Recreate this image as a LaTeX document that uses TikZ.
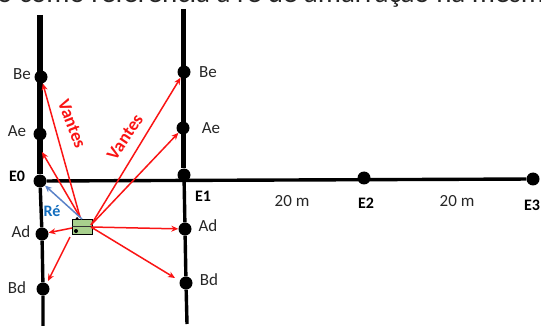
\documentclass[tikz,border=0pt]{standalone}
\usepackage{fontspec}
\setmainfont{Carlito}
\usetikzlibrary{arrows.meta,positioning}
\definecolor{surveyred}{RGB}{250,20,20}
\definecolor{surveyblue}{RGB}{90,130,200}
\definecolor{surveylabel}{RGB}{20,110,190}
\definecolor{surveygreen}{RGB}{168,208,141}
\begin{document}
\begin{tikzpicture}[
    x=1pt, y=-1pt,
    peg/.style={circle, fill=black, inner sep=0pt, minimum size=13pt},
    pegsmall/.style={circle, fill=black, inner sep=0pt, minimum size=4pt},
    tag/.style={font=\fontsize{17}{19}\selectfont, text=black!85},
    stationtag/.style={font=\fontsize{16}{18}\selectfont\bfseries},
    vantestag/.style={font=\fontsize{18}{20}\selectfont\bfseries, text=surveyred},
    axis/.style={line width=3.4pt},
    axisthick/.style={line width=5.5pt},
    sight/.style={-{Stealth[length=7pt,width=6pt]}, surveyred, line width=1.5pt},
    >=Stealth
]
\useasboundingbox (0,0) rectangle (541,326);
% top line
\node[font=\fontsize{29}{31}\selectfont, text=black!85, anchor=base west, inner sep=0pt] (top) at (-3,3) {o como referência à ré de amarração na mesma};
% stakes
\node[peg] (e0) at (40,181) {};
\node[peg] (e1) at (184,175) {};
\node[peg] (e2) at (364,178) {};
\node[peg] (e3) at (533,179) {};
\node[peg] (be0) at (41,77) {};
\node[peg] (ae0) at (40,134) {};
\node[peg] (ad0) at (42,234) {};
\node[peg] (bd0) at (43,289) {};
\node[peg] (be1) at (184,72) {};
\node[peg] (ae1) at (183,128) {};
\node[peg] (ad1) at (185,229) {};
\node[peg] (bd1) at (186,283) {};
% line ends
\coordinate (t0) at (40,15);
\coordinate (b0) at (43,326);
\coordinate (t1) at (183.5,9);
\coordinate (m1) at (183.5,168);
\coordinate (b1) at (187,324);
\draw[axisthick] (t0) -- (e0);
\draw[axis] (e0) -- (ad0) -- (bd0) -- (b0);
\draw[axisthick] (t1) -- (m1);
\draw[axis] (e1) -- (ad1) -- (bd1) -- (b1);
\draw[axis] (e0) -- (e3);
% instrument
\node[draw=black, fill=surveygreen, line width=0.9pt, minimum width=20pt, minimum height=15pt, inner sep=0pt] (inst) at (82,226.5) {};
\draw[line width=0.9pt, black!80] (inst.west) -- (inst.east);
\node[pegsmall] (knob) at (76,231) {};
\node[pegsmall, minimum size=3pt] (knobtop) at (77,218.5) {};
\node[pegsmall, minimum size=3pt] (knobright) at (93,228) {};
% sights
\coordinate (s1) at (80,217);
\coordinate (s2) at (70,237);
\coordinate (s3) at (72,228);
\coordinate (s4) at (91,225);
\coordinate (s5) at (91,227);
\coordinate (sblue) at (82,219);
\coordinate (tipae) at (42,152);
\coordinate (tipbd) at (175,278);
\coordinate (tipbdl) at (48,281);
\draw[sight] (s1) -- (be0);
\draw[sight] (s1) -- (tipae);
\draw[sight] (s4) -- (be1);
\draw[sight] (s4) -- (ae1);
\draw[sight] (s5) -- (ad1);
\draw[sight] (s5) -- (tipbd);
\draw[sight] (s3) -- (ad0);
\draw[sight] (s2) -- (tipbdl);
\draw[-{Stealth[length=7pt,width=6pt]}, surveyblue, line width=1.5pt] (sblue) -- (e0);
% labels
\node[tag] (lbe0) at (22,74) {Be};
\node[tag] (lae0) at (17,131) {Ae};
\node[tag] (lad0) at (21,232) {Ad};
\node[tag] (lbd0) at (17,288) {Bd};
\node[tag] (lbe1) at (208,72) {Be};
\node[tag] (lae1) at (211,128) {Ae};
\node[tag] (lad1) at (208,226) {Ad};
\node[tag] (lbd1) at (209,280) {Bd};
\node[stationtag] (le0) at (17,176) {E0};
\node[stationtag] (le1) at (203,196) {E1};
\node[stationtag] (le2) at (366,203) {E2};
\node[stationtag] (le3) at (532,205) {E3};
\node[tag] (d1) at (292,201) {20 m};
\node[tag] (d2) at (457,201) {20 m};
\node[stationtag, text=surveylabel] (re) at (52,211) {Ré};
\node[vantestag, rotate=-69] (v1) at (72,124) {Vantes};
\node[vantestag, rotate=56] (v2) at (125,137) {Vantes};
\end{tikzpicture}
\end{document}
